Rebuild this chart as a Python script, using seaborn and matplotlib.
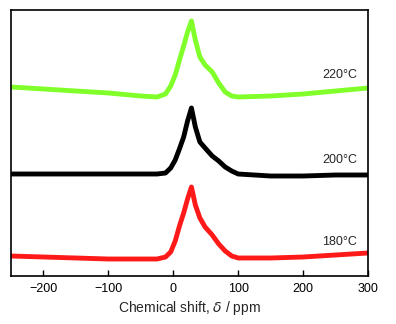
import matplotlib
matplotlib.use("Agg")
import matplotlib.pyplot as plt
import seaborn as sns
import pandas as pd

# chemical shift (ppm)
shift = [-250, -200, -150, -100, -50, -25, -12, -4, 3, 10, 16, 22, 28, 34, 41,
         49, 60, 70, 80, 90, 100, 150, 200, 250, 300]
# intensities (stacked, arbitrary units)
int_220 = [189, 187, 185, 183, 180, 179, 182, 190, 201, 217, 230, 244, 255, 236,
           219, 211, 204, 193, 184, 180, 179, 180, 182, 185, 188]
int_200 = [102, 102, 102, 102, 102, 102, 103, 108, 116, 128, 139, 155, 168, 149,
           134, 128, 120, 115, 109, 105, 102, 100, 100, 101, 101]
int_180 = [20, 19, 18, 17, 17, 17, 19, 24, 35, 51, 63, 77, 89, 71, 58, 49, 41,
           32, 25, 20, 18, 18, 19, 21, 23]
labels = ["220°C", "200°C", "180°C"]
colors = ["#80ff2a", "#000000", "#ff1a1a"]
xticks = [-200, -100, 0, 100, 200, 300]

sns.set_style("ticks")
plt.rcParams["font.family"] = ["Liberation Sans", "DejaVu Sans"]
plt.rcParams["mathtext.fontset"] = "dejavusans"

rows = []
for lab, ser in zip(labels, [int_220, int_200, int_180]):
    for x, y in zip(shift, ser):
        rows.append({"shift": x, "intensity": y, "temp": lab})
df = pd.DataFrame(rows)

fig = plt.figure(figsize=(3.96, 3.24), dpi=100)
ax = fig.add_axes([11 / 396, 48 / 324, 357 / 396, 266 / 324])
sns.lineplot(data=df, x="shift", y="intensity", hue="temp", hue_order=labels,
             palette=colors, linewidth=3.5, legend=False, ax=ax, sort=False,
             estimator=None, solid_joinstyle="round", solid_capstyle="butt")

ax.set_xlim(-250, 300)
ax.set_ylim(0, 266)
ax.set_xticks(xticks)
ax.set_yticks([])
ax.tick_params(axis="x", direction="in", length=4, width=1, labelsize=9,
               pad=5, colors="black")
for s in ax.spines.values():
    s.set_linewidth(1.2)
    s.set_color("black")
ax.set_xlabel("Chemical shift, $\\delta$ / ppm", fontsize=10, labelpad=3)
ax.set_ylabel("")

label_y = [201, 116, 34]
for lab, y in zip(labels, label_y):
    ax.text(283, y, lab, ha="right", va="center", fontsize=9)

fig.savefig("out.png", dpi=100)
